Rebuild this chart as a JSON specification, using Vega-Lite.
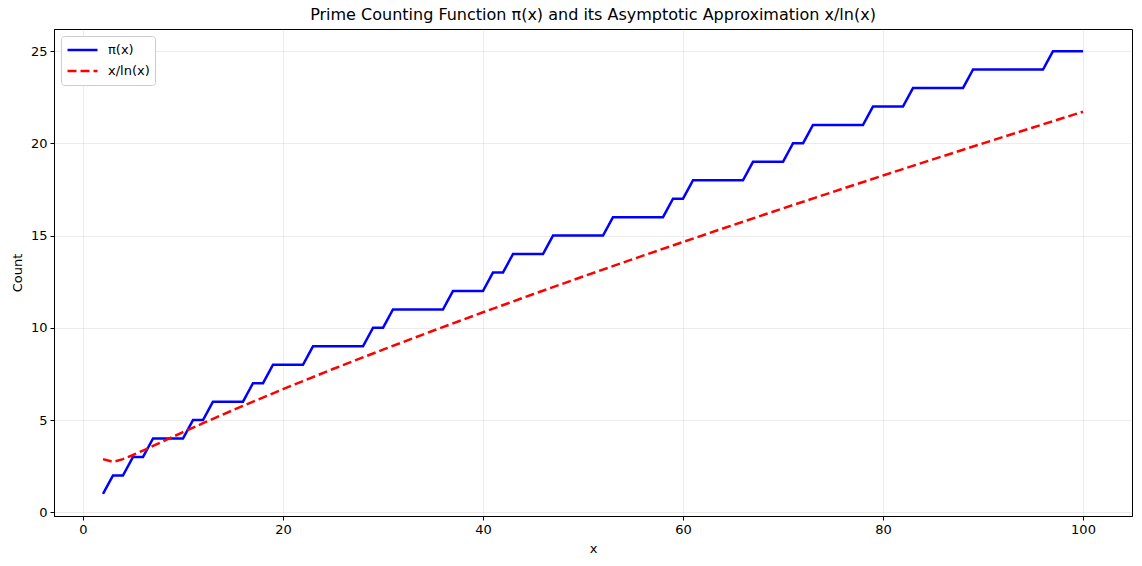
{
  "$schema": "https://vega.github.io/schema/vega-lite/v6.json",
  "autosize": "none",
  "width": 1078,
  "height": 487,
  "padding": {"left": 54, "top": 29, "right": 10, "bottom": 50},
  "background": "white",
  "title": {"text": "Prime Counting Function π(x) and its Asymptotic Approximation x/ln(x)", "font": "DejaVu Sans", "fontSize": 16, "fontWeight": "normal", "color": "black", "offset": 6},
  "config": {
    "view": {"stroke": "black", "strokeWidth": 1},
    "axis": {"labelFont": "DejaVu Sans", "titleFont": "DejaVu Sans", "labelFontSize": 13, "titleFontSize": 13, "titleFontWeight": "normal", "labelColor": "black", "titleColor": "black", "domainColor": "black", "tickColor": "black", "tickSize": 4, "labelPadding": 3, "gridColor": "#b0b0b0", "gridOpacity": 0.3, "gridWidth": 0.8}
  },
  "data": {"values": [
    {"x": 2, "y": 1, "series": "π(x)"},
    {"x": 3, "y": 2, "series": "π(x)"},
    {"x": 4, "y": 2, "series": "π(x)"},
    {"x": 5, "y": 3, "series": "π(x)"},
    {"x": 6, "y": 3, "series": "π(x)"},
    {"x": 7, "y": 4, "series": "π(x)"},
    {"x": 10, "y": 4, "series": "π(x)"},
    {"x": 11, "y": 5, "series": "π(x)"},
    {"x": 12, "y": 5, "series": "π(x)"},
    {"x": 13, "y": 6, "series": "π(x)"},
    {"x": 16, "y": 6, "series": "π(x)"},
    {"x": 17, "y": 7, "series": "π(x)"},
    {"x": 18, "y": 7, "series": "π(x)"},
    {"x": 19, "y": 8, "series": "π(x)"},
    {"x": 22, "y": 8, "series": "π(x)"},
    {"x": 23, "y": 9, "series": "π(x)"},
    {"x": 28, "y": 9, "series": "π(x)"},
    {"x": 29, "y": 10, "series": "π(x)"},
    {"x": 30, "y": 10, "series": "π(x)"},
    {"x": 31, "y": 11, "series": "π(x)"},
    {"x": 36, "y": 11, "series": "π(x)"},
    {"x": 37, "y": 12, "series": "π(x)"},
    {"x": 40, "y": 12, "series": "π(x)"},
    {"x": 41, "y": 13, "series": "π(x)"},
    {"x": 42, "y": 13, "series": "π(x)"},
    {"x": 43, "y": 14, "series": "π(x)"},
    {"x": 46, "y": 14, "series": "π(x)"},
    {"x": 47, "y": 15, "series": "π(x)"},
    {"x": 52, "y": 15, "series": "π(x)"},
    {"x": 53, "y": 16, "series": "π(x)"},
    {"x": 58, "y": 16, "series": "π(x)"},
    {"x": 59, "y": 17, "series": "π(x)"},
    {"x": 60, "y": 17, "series": "π(x)"},
    {"x": 61, "y": 18, "series": "π(x)"},
    {"x": 66, "y": 18, "series": "π(x)"},
    {"x": 67, "y": 19, "series": "π(x)"},
    {"x": 70, "y": 19, "series": "π(x)"},
    {"x": 71, "y": 20, "series": "π(x)"},
    {"x": 72, "y": 20, "series": "π(x)"},
    {"x": 73, "y": 21, "series": "π(x)"},
    {"x": 78, "y": 21, "series": "π(x)"},
    {"x": 79, "y": 22, "series": "π(x)"},
    {"x": 82, "y": 22, "series": "π(x)"},
    {"x": 83, "y": 23, "series": "π(x)"},
    {"x": 88, "y": 23, "series": "π(x)"},
    {"x": 89, "y": 24, "series": "π(x)"},
    {"x": 96, "y": 24, "series": "π(x)"},
    {"x": 97, "y": 25, "series": "π(x)"},
    {"x": 100, "y": 25, "series": "π(x)"},
    {"x": 2, "y": 2.885, "series": "x/ln(x)"},
    {"x": 3, "y": 2.731, "series": "x/ln(x)"},
    {"x": 4, "y": 2.885, "series": "x/ln(x)"},
    {"x": 5, "y": 3.107, "series": "x/ln(x)"},
    {"x": 6, "y": 3.349, "series": "x/ln(x)"},
    {"x": 7, "y": 3.597, "series": "x/ln(x)"},
    {"x": 8, "y": 3.847, "series": "x/ln(x)"},
    {"x": 9, "y": 4.096, "series": "x/ln(x)"},
    {"x": 10, "y": 4.343, "series": "x/ln(x)"},
    {"x": 12, "y": 4.829, "series": "x/ln(x)"},
    {"x": 15, "y": 5.539, "series": "x/ln(x)"},
    {"x": 20, "y": 6.676, "series": "x/ln(x)"},
    {"x": 25, "y": 7.767, "series": "x/ln(x)"},
    {"x": 30, "y": 8.820, "series": "x/ln(x)"},
    {"x": 35, "y": 9.844, "series": "x/ln(x)"},
    {"x": 40, "y": 10.843, "series": "x/ln(x)"},
    {"x": 45, "y": 11.821, "series": "x/ln(x)"},
    {"x": 50, "y": 12.781, "series": "x/ln(x)"},
    {"x": 55, "y": 13.725, "series": "x/ln(x)"},
    {"x": 60, "y": 14.654, "series": "x/ln(x)"},
    {"x": 65, "y": 15.571, "series": "x/ln(x)"},
    {"x": 70, "y": 16.476, "series": "x/ln(x)"},
    {"x": 75, "y": 17.371, "series": "x/ln(x)"},
    {"x": 80, "y": 18.256, "series": "x/ln(x)"},
    {"x": 85, "y": 19.133, "series": "x/ln(x)"},
    {"x": 90, "y": 20.001, "series": "x/ln(x)"},
    {"x": 95, "y": 20.861, "series": "x/ln(x)"},
    {"x": 100, "y": 21.715, "series": "x/ln(x)"}
  ]},
  "mark": {"type": "line", "strokeWidth": 2.5, "clip": true},
  "encoding": {
    "x": {"field": "x", "type": "quantitative", "title": "x", "scale": {"domain": [-2.9, 104.9], "nice": false, "zero": false}, "axis": {"values": [0, 20, 40, 60, 80, 100], "titlePadding": 6}},
    "y": {"field": "y", "type": "quantitative", "title": "Count", "scale": {"domain": [-0.2, 26.2], "nice": false, "zero": false}, "axis": {"values": [0, 5, 10, 15, 20, 25], "titlePadding": 6}},
    "color": {"field": "series", "type": "nominal", "scale": {"domain": ["π(x)", "x/ln(x)"], "range": ["#0000ff", "#ff0000"]},
      "legend": {"title": null, "orient": "none", "legendX": 7, "legendY": 7, "fillColor": "white", "strokeColor": "#cccccc", "cornerRadius": 3, "padding": 5, "symbolType": "stroke", "symbolSize": 900, "clipHeight": 18, "symbolStrokeWidth": 2.5, "labelFont": "DejaVu Sans", "labelFontSize": 13, "labelColor": "black", "labelOffset": 9, "rowPadding": 3}},
    "strokeDash": {"field": "series", "type": "nominal", "scale": {"domain": ["π(x)", "x/ln(x)"], "range": [[1, 0], [9, 4]]}, "legend": null}
  }
}
